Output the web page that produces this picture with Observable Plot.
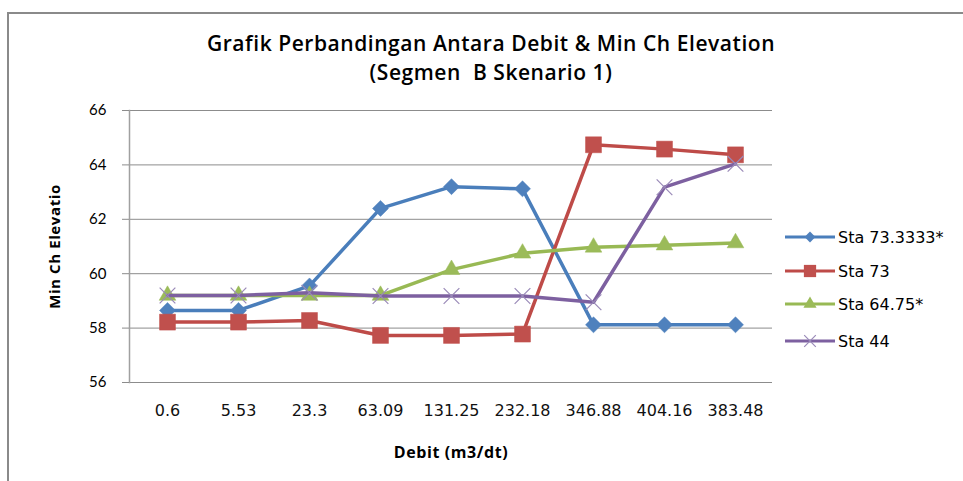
<!DOCTYPE html>
<html>
<head>
<meta charset="utf-8">
<script src="https://cdn.jsdelivr.net/npm/d3@7"></script>
<script src="https://cdn.jsdelivr.net/npm/@observablehq/plot@0.6"></script>
<style>
  html, body { margin: 0; padding: 0; background: #fff; }
  #wrap { position: relative; width: 963px; height: 481px; overflow: hidden; font-family: "Open Sans", sans-serif; color: #000; }
  #frame { position: absolute; left: 7px; top: 12px; width: 1000px; height: 600px; border-left: 2px solid #8a8a8a; border-top: 2px solid #8a8a8a; }
  #titles { position: relative; height: 95px; }
  .t1 { position: absolute; left: 0; width: 982px; text-align: center; top: 29px; font-size: 21px; font-weight: 600; white-space: pre; letter-spacing: 0.55px; }
  .t2 { position: absolute; left: 0; width: 982px; text-align: center; top: 58px; font-size: 21px; font-weight: 600; white-space: pre; letter-spacing: 0.55px; }
  #legend { position: absolute; left: 783px; top: 222px; font-family: "DejaVu Sans", sans-serif; font-size: 16px; }
  .row { position: absolute; left: 0; height: 30px; display: flex; align-items: center; white-space: nowrap; }
  .row svg { display: block; margin-right: 3px; }
  .axislab { letter-spacing: 0.6px; }
</style>
</head>
<body>
<div id="wrap">
  <div id="frame"></div>
  <div id="titles">
    <div class="t1" id="title"></div>
    <div class="t2" id="subtitle"></div>
  </div>
  <div id="chart"></div>
  <div id="legend"></div>
</div>
<script>
const titleText = "Grafik Perbandingan Antara Debit & Min Ch Elevation";
const subtitleText = "(Segmen  B Skenario 1)";
const xLabel = "Debit (m3/dt)";
const yLabel = "Min Ch Elevatio";

const categories = ["0.6", "5.53", "23.3", "63.09", "131.25", "232.18", "346.88", "404.16", "383.48"];
const seriesNames = ["Sta 73.3333*", "Sta 73", "Sta 64.75*", "Sta 44"];
const sta73_3333 = [58.65, 58.65, 59.55, 62.4, 63.2, 63.12, 58.12, 58.12, 58.12];
const sta73 = [58.22, 58.22, 58.28, 57.73, 57.73, 57.78, 64.74, 64.58, 64.37];
const sta64_75 = [59.2, 59.2, 59.2, 59.2, 60.15, 60.75, 60.97, 61.05, 61.13];
const sta44 = [59.2, 59.2, 59.3, 59.18, 59.18, 59.18, 58.95, 63.18, 64.04];
const yTicks = [56, 58, 60, 62, 64, 66];

const seriesValues = [sta73_3333, sta73, sta64_75, sta44];
const lineColors = ["#4A7EBB", "#BE4B48", "#98B954", "#7D60A0"];
const markColors = ["#4F81BD", "#C0504D", "#9BBB59", "#9A8AB8"];

document.getElementById("title").textContent = titleText;
document.getElementById("subtitle").textContent = subtitleText;

const data = [];
seriesNames.forEach((name, s) => {
  categories.forEach((c, i) => data.push({series: name, s, cat: c, value: seriesValues[s][i]}));
});

const marks = [
  Plot.gridY(yTicks, {stroke: "#8c8c8c", strokeOpacity: 1, strokeWidth: 1}),
  Plot.frame({anchor: "left", stroke: "#a0a0a0", strokeWidth: 1.5}),
  Plot.axisY(yTicks, {tickSize: 7, tickPadding: 16, fontSize: 15, stroke: "#8c8c8c", fill: "#000", label: null, fontFamily: "Lato, sans-serif"}),
  Plot.axisX({tickSize: 0, tickPadding: 22, fontSize: 16, label: null, fill: "#111", fontFamily: "DejaVu Sans, sans-serif"}),
  Plot.text([yLabel], {frameAnchor: "left", dx: -74, rotate: -90, textAnchor: "middle", fontWeight: 700, fontSize: 15, fill: "#000", fontFamily: "Open Sans, sans-serif", className: "axislab"}),
  Plot.text([xLabel], {frameAnchor: "bottom", dy: 70, textAnchor: "middle", lineAnchor: "middle", fontWeight: 700, fontSize: 16, fill: "#000", fontFamily: "Open Sans, sans-serif", className: "axislab"})
];

const symbols = ["diamond2", "square", "triangle", "times"];
const symR = [7.2, 9, 6.2, 7.2];
seriesNames.forEach((name, s) => {
  const d = data.filter(r => r.s === s);
  marks.push(Plot.line(d, {x: "cat", y: "value", stroke: lineColors[s], strokeWidth: 3.5, strokeLinejoin: "round"}));
  if (s === 3) {
    marks.push(Plot.dot(d, {x: "cat", y: "value", symbol: "times", r: symR[s], stroke: markColors[s], strokeWidth: 1.2, fill: "none"}));
  } else {
    marks.push(Plot.dot(d, {x: "cat", y: "value", symbol: symbols[s], r: symR[s], fill: markColors[s], stroke: markColors[s], strokeWidth: 0.5}));
  }
});

const chart = Plot.plot({
  width: 963,
  height: 386,
  marginTop: 15,
  marginBottom: 99,
  marginLeft: 129,
  marginRight: 191,
  style: {background: "transparent", overflow: "visible"},
  x: {type: "point", domain: categories, padding: 0.5, label: null},
  y: {domain: [56, 66], label: null},
  marks
});
document.getElementById("chart").appendChild(chart);

// legend
const legend = d3.select("#legend");
const legendTops = [0, 34, 67, 104];
const legSym = [d3.symbolDiamond2, d3.symbolSquare, d3.symbolTriangle, d3.symbolTimes];
const legSize = [75, 150, 75, 90];
seriesNames.forEach((name, s) => {
  const row = legend.append("div").attr("class", "row").style("top", legendTops[s] + "px");
  const svg = row.append("svg").attr("width", 52).attr("height", 20);
  svg.append("line").attr("x1", 2).attr("x2", 52).attr("y1", 10).attr("y2", 10)
    .attr("stroke", lineColors[s]).attr("stroke-width", 3);
  const p = svg.append("path").attr("d", d3.symbol(legSym[s], legSize[s])()).attr("transform", "translate(27,10)");
  if (s === 3) p.attr("fill", "none").attr("stroke", markColors[s]).attr("stroke-width", 1.2);
  else p.attr("fill", markColors[s]);
  row.append("span").text(name);
});
</script>
</body>
</html>
